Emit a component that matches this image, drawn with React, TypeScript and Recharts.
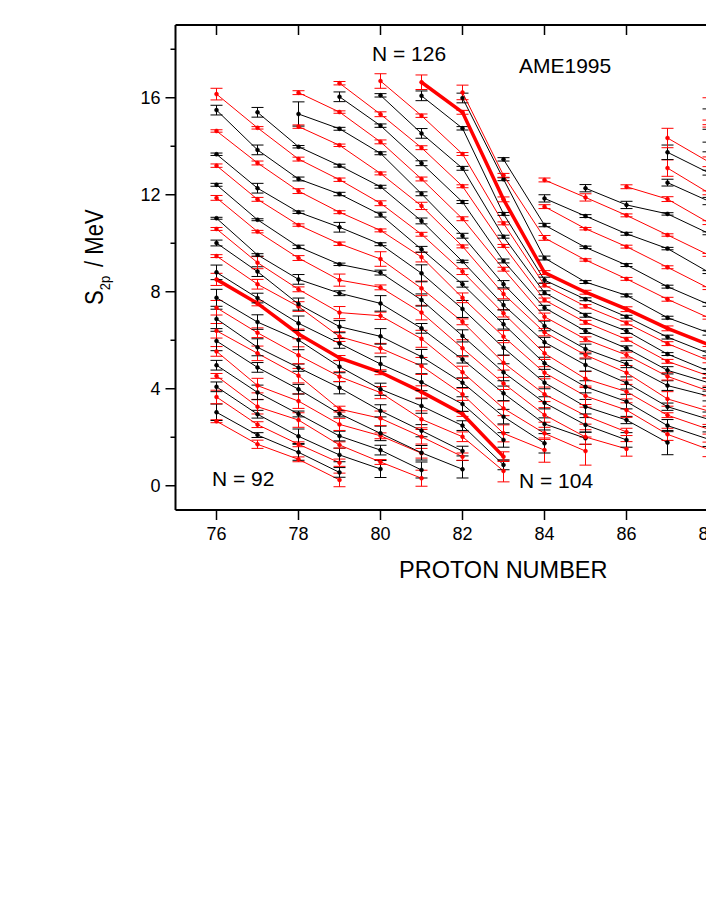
import { LineChart, Line, XAxis, YAxis, ErrorBar } from "recharts";

// S2p in MeV, one list per proton number, neutron number rising from firstN
const protons = [76, 77, 78, 79, 80, 81, 82, 83, 84, 85, 86, 87, 88];
const firstN = [92, 92, 92, 92, 95, 96, 99, 102, 106, 108, 110, 113, 114];

const z76 = [2.66, 3.03, 3.66, 4.08, 4.53, 4.97, 5.54, 5.97, 6.39, 6.88, 7.34, 7.75, 8.51, 8.8, 9.47, 10.01, 10.59, 11.03, 11.87, 12.41, 13.2, 13.67, 14.63, 15.49, 16.15];
const z77 = [1.71, 2.09, 2.52, 2.95, 3.26, 3.85, 4.13, 4.88, 5.46, 5.71, 6.31, 6.75, 7.52, 7.74, 8.31, 8.83, 9.2, 9.52, 10.48, 10.97, 11.81, 12.27, 13.31, 13.85, 14.76, 15.4];
const z78 = [1.09, 1.38, 1.71, 2.04, 2.71, 2.96, 3.49, 3.98, 4.54, 4.87, 5.38, 6.01, 6.26, 6.7, 7.39, 7.49, 8.1, 8.51, 9.39, 9.85, 10.75, 11.28, 12.15, 12.65, 13.47, 13.98, 14.81, 15.33, 16.21];
const z79 = [0.24, 0.55, 0.95, 1.27, 1.68, 2.05, 2.53, 2.97, 3.16, 4.04, 4.5, 4.91, 5.27, 5.87, 6.15, 6.56, 7.14, 7.94, 8.48, 9.13, 9.98, 10.66, 11.28, 12.03, 12.62, 13.2, 14.04, 14.72, 15.41, 16.04, 16.6];
const z80 = [0.69, 0.98, 1.47, 2.06, 2.16, 2.78, 3.09, 3.84, 3.98, 4.68, 5.02, 5.67, 6.16, 7.01, 7.52, 8.18, 8.79, 9.35, 9.96, 10.53, 11.18, 11.65, 12.33, 12.88, 13.71, 14.18, 14.85, 15.32, 16.1, 16.69];
const z81 = [0.31, 0.65, 1.34, 1.36, 2.02, 2.27, 2.74, 3.29, 3.87, 4.27, 4.94, 5.32, 6.06, 6.49, 7.14, 7.66, 8.14, 8.76, 9.43, 9.75, 10.37, 10.92, 11.54, 12.04, 12.65, 13.3, 13.94, 14.53, 15.26, 16.08, 16.64];
const z82 = [0.68, 1.2, 1.43, 2.02, 2.48, 2.96, 3.37, 3.77, 4.25, 4.68, 5.21, 5.67, 6.18, 6.76, 7.29, 7.75, 8.31, 8.83, 9.25, 9.87, 10.31, 11.01, 11.7, 12.35, 13.09, 13.68, 14.74, 15.4, 15.99, 16.22];
const z83 = [0.61, 0.86, 1.2, 1.89, 2.16, 2.85, 3.19, 3.81, 4.22, 4.68, 5.07, 5.69, 6.15, 6.66, 7.11, 7.45, 7.91, 8.31, 8.93, 9.27, 9.89, 10.27, 10.82, 11.21, 11.81, 12.64, 12.8, 13.46];
const z84 = [1.47, 1.75, 2.16, 2.55, 2.92, 3.42, 3.77, 4.25, 4.66, 5.05, 5.46, 5.92, 6.33, 6.59, 6.97, 7.34, 7.66, 7.96, 8.27, 8.48, 8.79, 9.39, 10.22, 10.75, 11.51, 11.85, 12.61];
const z85 = [1.43, 1.96, 2.01, 2.51, 2.89, 3.26, 3.7, 4.08, 4.41, 4.98, 5.39, 5.64, 6.04, 6.38, 6.74, 7.03, 7.4, 7.69, 7.98, 8.4, 9.31, 9.83, 10.6, 11.12, 11.89, 12.27];
const z86 = [1.52, 1.89, 2.22, 2.71, 3.12, 3.47, 3.88, 4.24, 4.66, 5.02, 5.39, 5.67, 6.04, 6.38, 6.71, 6.97, 7.28, 7.85, 8.53, 9.1, 9.86, 10.39, 11.15, 11.58, 12.33];
const z87 = [1.78, 2.12, 2.48, 2.91, 3.26, 3.58, 4.13, 4.51, 4.76, 5.13, 5.43, 5.86, 6.13, 6.49, 6.93, 7.69, 8.21, 9.01, 9.78, 10.34, 11.21, 11.82, 12.5, 13.1, 13.75, 14.34];
const z88 = [1.5, 1.92, 2.33, 2.74, 3.08, 3.7, 3.91, 4.25, 4.53, 4.73, 5.17, 5.46, 5.82, 6.31, 6.93, 7.48, 8.15, 8.81, 9.52, 10.41, 10.85, 11.74, 12.08, 12.91, 13.36, 13.97, 14.84, 15.12, 15.54];

const e76 = [0.06, 0.34, 0.28, 0.2, 0.1, 0.2, 0.2, 0.4, 0.3, 0.4, 0.3, 0.35, 0.25, 0.3, 0.06, 0.12, 0.06, 0.04, 0.1, 0.06, 0.07, 0.05, 0.05, 0.2, 0.24];
const e77 = [0.17, 0.1, 0.12, 0.16, 0.3, 0.3, 0.3, 0.2, 0.3, 0.35, 0.2, 0.3, 0.1, 0.2, 0.2, 0.2, 0.25, 0.05, 0.05, 0.04, 0.08, 0.2, 0.08, 0.2, 0.05, 0.2];
const e78 = [0.1, 0.33, 0.1, 0.3, 0.3, 0.12, 0.3, 0.2, 0.3, 0.15, 0.35, 0.4, 0.2, 0.3, 0.2, 0.25, 0.1, 0.2, 0.1, 0.07, 0.05, 0.05, 0.1, 0.08, 0.08, 0.05, 0.07, 0.5, 0.08];
const e79 = [0.28, 0.2, 0.15, 0.28, 0.13, 0.2, 0.25, 0.13, 0.12, 0.25, 0.2, 0.25, 0.1, 0.2, 0.2, 0.25, 0.25, 0.1, 0.25, 0.05, 0.07, 0.2, 0.06, 0.07, 0.07, 0.06, 0.05, 0.06, 0.05, 0.2, 0.07];
const e80 = [0.35, 0.1, 0.2, 0.12, 0.3, 0.3, 0.25, 0.25, 0.25, 0.1, 0.3, 0.2, 0.32, 0.15, 0.32, 0.1, 0.1, 0.3, 0.06, 0.06, 0.1, 0.1, 0.06, 0.06, 0.06, 0.08, 0.07, 0.1, 0.07, 0.3];
const e81 = [0.33, 0.33, 0.2, 0.3, 0.3, 0.25, 0.35, 0.3, 0.25, 0.35, 0.35, 0.3, 0.35, 0.2, 0.3, 0.25, 0.3, 0.35, 0.2, 0.12, 0.08, 0.12, 0.15, 0.08, 0.08, 0.1, 0.08, 0.2, 0.07, 0.2, 0.3];
const e82 = [0.36, 0.15, 0.2, 0.2, 0.2, 0.1, 0.3, 0.25, 0.2, 0.25, 0.15, 0.35, 0.25, 0.12, 0.35, 0.2, 0.12, 0.12, 0.05, 0.06, 0.1, 0.08, 0.06, 0.06, 0.08, 0.06, 0.07, 0.08, 0.2, 0.3];
const e83 = [0.45, 0.2, 0.2, 0.3, 0.35, 0.3, 0.3, 0.3, 0.25, 0.35, 0.3, 0.3, 0.25, 0.2, 0.15, 0.2, 0.2, 0.15, 0.08, 0.08, 0.06, 0.06, 0.06, 0.06, 0.1, 0.06, 0.08, 0.07];
const e84 = [0.5, 0.4, 0.25, 0.25, 0.3, 0.25, 0.3, 0.25, 0.25, 0.25, 0.25, 0.2, 0.15, 0.2, 0.15, 0.1, 0.08, 0.08, 0.07, 0.12, 0.08, 0.08, 0.1, 0.07, 0.08, 0.15, 0.08];
const e85 = [0.58, 0.25, 0.3, 0.3, 0.35, 0.3, 0.35, 0.25, 0.3, 0.25, 0.12, 0.2, 0.1, 0.1, 0.08, 0.08, 0.07, 0.06, 0.08, 0.06, 0.05, 0.05, 0.05, 0.06, 0.15, 0.15];
const e86 = [0.3, 0.3, 0.15, 0.15, 0.3, 0.3, 0.3, 0.25, 0.3, 0.15, 0.12, 0.1, 0.08, 0.1, 0.08, 0.06, 0.1, 0.06, 0.06, 0.06, 0.06, 0.06, 0.06, 0.15, 0.08];
const e87 = [0.5, 0.25, 0.25, 0.1, 0.15, 0.3, 0.2, 0.15, 0.15, 0.08, 0.06, 0.08, 0.08, 0.1, 0.06, 0.08, 0.06, 0.06, 0.05, 0.05, 0.05, 0.1, 0.14, 0.34, 0.3, 0.4];
const e88 = [0.3, 0.3, 0.2, 0.3, 0.2, 0.2, 0.2, 0.2, 0.1, 0.1, 0.1, 0.1, 0.08, 0.1, 0.06, 0.08, 0.06, 0.06, 0.06, 0.06, 0.08, 0.15, 0.08, 0.1, 0.2, 0.2, 0.05, 0.42, 0.46];

const values = [z76, z77, z78, z79, z80, z81, z82, z83, z84, z85, z86, z87, z88];
const errors = [e76, e77, e78, e79, e80, e81, e82, e83, e84, e85, e86, e87, e88];

const neutrons: number[] = [];
for (let n = 92; n <= 142; n++) neutrons.push(n);
const boldN = [104, 126];

const xTicks = [76, 78, 80, 82, 84, 86, 88];
const yTicks = [0, 2, 4, 6, 8, 10, 12, 14, 16, 18];

const rows = protons.map((z, i) => {
  const row: Record<string, number> = { z };
  values[i].forEach((v, j) => {
    const n = firstN[i] + j;
    row[`n${n}`] = v;
    row[`e${n}`] = errors[i][j];
  });
  return row;
});

const FONT = "'Liberation Sans', Arial, sans-serif";

function TopTick({ x, y }: any) {
  return <line x1={x} x2={x} y1={y} y2={y + 10} stroke="#000" strokeWidth={1.5} />;
}

function LeftTick({ x, y, payload }: any) {
  const major = payload.value % 4 === 0;
  return (
    <g>
      <line x1={x - (major ? 10 : 5)} x2={x} y1={y} y2={y} stroke="#000" strokeWidth={1.5} />
      {major && (
        <text x={x - 15} y={y + 6.5} textAnchor="end" fontSize={18} fontFamily={FONT} fill="#000">
          {payload.value}
        </text>
      )}
    </g>
  );
}

export default function App() {
  return (
    <div style={{ position: "absolute", left: 8, top: 8, width: 698, height: 905, overflow: "hidden" }}>
      <LineChart width={800} height={600} data={rows} margin={{ top: 0, right: 17.5, bottom: 0, left: 0 }}>
        <XAxis
          dataKey="z"
          type="number"
          domain={[75, 90]}
          ticks={xTicks}
          interval={0}
          height={98}
          tickSize={10}
          tickMargin={7}
          tick={{ fill: "#000", fontSize: 18, fontFamily: FONT }}
          tickLine={{ stroke: "#000", strokeWidth: 1.5 }}
          axisLine={{ stroke: "#000", strokeWidth: 2 }}
        />
        <XAxis
          xAxisId="top"
          orientation="top"
          dataKey="z"
          type="number"
          domain={[75, 90]}
          ticks={xTicks}
          interval={0}
          height={17}
          tickSize={0}
          tickMargin={0}
          tick={<TopTick />}
          tickLine={false}
          axisLine={{ stroke: "#000", strokeWidth: 2 }}
        />
        <YAxis
          type="number"
          domain={[-1, 19]}
          ticks={yTicks}
          interval={0}
          width={167.5}
          tickSize={0}
          tickMargin={0}
          tick={<LeftTick />}
          tickLine={false}
          axisLine={{ stroke: "#000", strokeWidth: 2 }}
        />
        {neutrons.map(n => {
          const color = n % 2 === 0 ? "#ff0000" : "#000000";
          return (
            <Line
              key={n}
              dataKey={`n${n}`}
              stroke={color}
              strokeWidth={boldN.includes(n) ? 3.5 : 1}
              dot={{ r: 2, fill: color, stroke: color, strokeWidth: 0.5 }}
              isAnimationActive={false}
            >
              <ErrorBar dataKey={`e${n}`} width={6} stroke={color} strokeWidth={1} isAnimationActive={false} />
            </Line>
          );
        })}
        <text x={364} y={53} fontSize={21} fontFamily={FONT} fill="#000">N = 126</text>
        <text x={511} y={65} fontSize={21} fontFamily={FONT} fill="#000">AME1995</text>
        <text x={204} y={478} fontSize={21} fontFamily={FONT} fill="#000">N = 92</text>
        <text x={511} y={480} fontSize={21} fontFamily={FONT} fill="#000">N = 104</text>
        <text x={391} y={570} fontSize={23.5} fontFamily={FONT} fill="#000">PROTON NUMBER</text>
        <text transform="translate(95 297) rotate(-90) scale(1 1.18)" fontSize={22} fontFamily={FONT} fill="#000">
          S<tspan fontSize={13} dy={6}>2p</tspan>
          <tspan dy={-6} dx={9}>/ MeV</tspan>
        </text>
      </LineChart>
    </div>
  );
}
